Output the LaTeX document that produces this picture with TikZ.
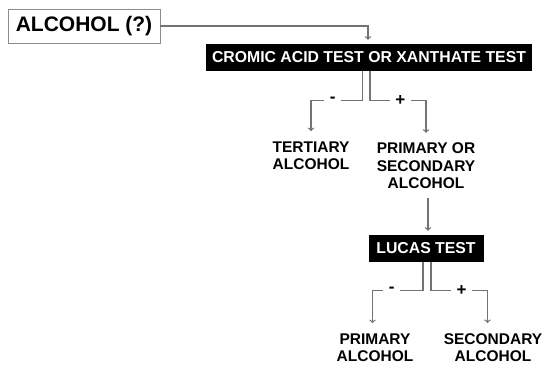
\documentclass[tikz,border=0pt]{standalone}
\usepackage{fontspec}
\setmainfont{Liberation Sans}
\usetikzlibrary{positioning}

\tikzset{
  startbox/.style={draw=black!45, line width=0.8pt, minimum width=152pt, minimum height=34pt,
    inner sep=0pt, font=\fontsize{21}{24}\selectfont\bfseries},
  testbox/.style={fill=black, text=white, minimum height=27pt, inner sep=0pt,
    font=\fontsize{15.8}{17.5}\selectfont\bfseries},
  result/.style={align=center, inner xsep=2pt, inner ysep=9pt,
    font=\fontsize{15.5}{17.5}\selectfont\bfseries},
  sign/.style={fill=white, inner xsep=5.5pt, inner ysep=1pt,
    font=\fontsize{17}{18}\selectfont\bfseries},
  link/.style={draw=black!55, line width=1.3pt}
}

\begin{document}
\begin{tikzpicture}[on grid, shorten >=1pt]
   \useasboundingbox (0,0) rectangle (544pt,-365pt);
   \node[startbox] (alc) at (84pt,-26pt) {ALCOHOL (?)};
   \node[testbox, minimum width=326pt] (cromic) [below right=31.5pt and 285pt of alc]
      {CROMIC ACID TEST OR XANTHATE TEST};
   \node[result] (tert) [below left=98pt and 58pt of cromic] {TERTIARY\\ALCOHOL};
   \node[result] (prisec) [below right=108.5pt and 57pt of cromic] {PRIMARY OR\\SECONDARY\\ALCOHOL};
   \node[testbox, minimum width=115pt] (lucas) [below=82.5pt of prisec] {LUCAS TEST};
   \node[result] (prim) [below left=99pt and 51pt of lucas] {PRIMARY\\ALCOHOL};
   \node[result] (sec) [below right=99pt and 67pt of lucas] {SECONDARY\\ALCOHOL};

   \draw[link, ->, shorten >=4pt] (alc.east) -| ([xshift=-1pt]cromic.north);

   \draw[link, ->] ([xshift=-6.5pt]cromic.south) -- ++(0,-29pt)
      -| node[sign, pos=0.29] {-} (tert.north);
   \draw[link, ->] ([xshift=1pt]cromic.south) -- ++(0,-29pt)
      -| node[sign, pos=0.27] {+} (prisec.north);

   \draw[link, ->, shorten >=4pt] ([xshift=2pt]prisec.south) -- ([xshift=2pt]lucas.north);

   \draw[link, ->] ([xshift=-3pt]lucas.south) -- ++(0,-28pt)
      -| node[sign, pos=0.31] {-} ([xshift=-2.5pt]prim.north);
   \draw[link, ->] ([xshift=5pt]lucas.south) -- ++(0,-28pt)
      -| node[sign, pos=0.27] {+} ([xshift=-5.5pt]sec.north);
\end{tikzpicture}
\end{document}
